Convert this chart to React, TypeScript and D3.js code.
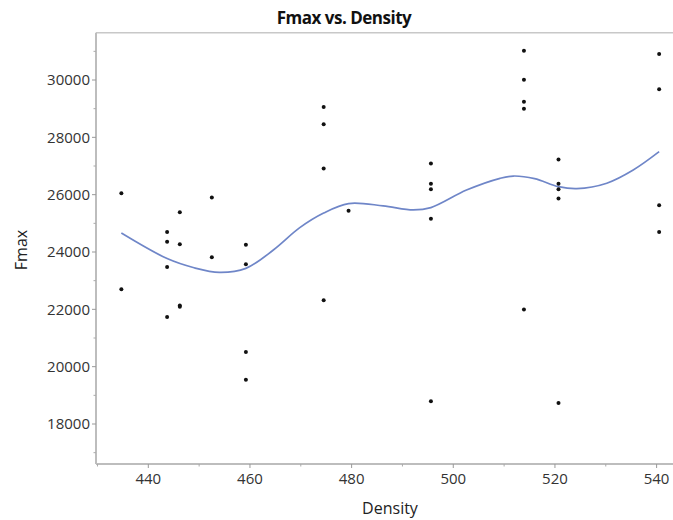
import React from 'react';
import * as d3 from 'd3';

// points: density value, then the Fmax readings at that density
const densities = [434.7, 443.7, 446.2, 452.5, 459.2, 474.5, 479.4, 495.6, 513.9, 520.7, 540.5];
const fmaxByDensity = [
  [26050, 22700],
  [24700, 24360, 23480, 21730],
  [25390, 24270, 22130, 22090],
  [25900, 23820],
  [24250, 23570, 20510, 19540],
  [29060, 28460, 26910, 22320],
  [25440],
  [27090, 26380, 26190, 25160, 18790],
  [31020, 30010, 29240, 29000, 21990],
  [27230, 26380, 26190, 25870, 18730],
  [30910, 29680, 25630, 24700],
];

// smoothing spline as it appears in the picture
const splineX = [434.7, 443.7, 449, 454, 459.2, 464.6, 469.8, 474.5, 479.4, 486.2, 492.1, 495.6, 502.6, 509.2, 511.8, 516, 520.7, 524.3, 530.2, 535.4, 540.5];
const splineY = [24660, 23770, 23450, 23290, 23430, 24070, 24850, 25360, 25690, 25610, 25470, 25550, 26160, 26570, 26650, 26560, 26280, 26210, 26400, 26860, 27500];

const xTicks = [440, 460, 480, 500, 520, 540];
const xMinor = [430, 450, 470, 490, 510, 530];
const yTicks = [18000, 20000, 22000, 24000, 26000, 28000, 30000];
const yMinor = [17000, 19000, 21000, 23000, 25000, 27000, 29000, 31000];

const width = 673, height = 520;
const left = 96, top = 32.7, bottom = 464;
const font = '"Open Sans", sans-serif';
const axisGrey = '#bdbdbd';
const labelColor = '#333';

export default function App() {
  const x = d3.scaleLinear().domain([440, 540]).range([148.3, 656.6]);
  const y = d3.scaleLinear().domain([18000, 30000]).range([424, 80]);

  const points = densities.flatMap((d, i) => fmaxByDensity[i].map(v => [d, v]));
  const line = d3.line<number>()
    .x(i => x(splineX[i]))
    .y(i => y(splineY[i]))
    .curve(d3.curveCatmullRom.alpha(0.5));

  return (
    <svg width={width} height={height} style={{ position: 'absolute', left: 0, top: 0, background: '#fff' }}>
      <text x={344} y={24} textAnchor="middle" fontFamily={font} fontWeight="bold"
            fontSize={17} letterSpacing={-0.5} fill="#111">Fmax vs. Density</text>

      {/* frame */}
      <line x1={left} x2={width} y1={top} y2={top} stroke="#c8c8c8" strokeWidth={1.5} />
      <line x1={left} x2={left} y1={top} y2={bottom} stroke={axisGrey} strokeWidth={2} />
      <line x1={left} x2={width} y1={bottom} y2={bottom} stroke={axisGrey} strokeWidth={2} />

      {/* y axis */}
      {yTicks.map(t => (
        <g key={t}>
          <line x1={left - 4} x2={left} y1={y(t)} y2={y(t)} stroke="#999" />
          <text x={left - 6} y={y(t)} dy="0.36em" textAnchor="end" fontFamily={font}
                fontSize={15} fill={labelColor}>{t}</text>
        </g>
      ))}
      {yMinor.map(t => (
        <line key={t} x1={left - 2.5} x2={left} y1={y(t)} y2={y(t)} stroke="#aaa" />
      ))}

      {/* x axis */}
      {xTicks.map(t => (
        <g key={t}>
          <line x1={x(t)} x2={x(t)} y1={bottom} y2={bottom + 4} stroke="#999" />
          <text x={x(t)} y={483.5} textAnchor="middle" fontFamily={font}
                fontSize={15} fill={labelColor}>{t}</text>
        </g>
      ))}
      {xMinor.map(t => (
        <line key={t} x1={x(t)} x2={x(t)} y1={bottom} y2={bottom + 2.5} stroke="#aaa" />
      ))}

      <text x={390} y={514} textAnchor="middle" fontFamily={font} fontSize={16} fill="#222">Density</text>
      <text transform="translate(27,250) rotate(-90)" textAnchor="middle" fontFamily={font}
            fontSize={16} fill="#222">Fmax</text>

      <path d={line(d3.range(splineX.length)) || ''} fill="none" stroke="#6f86c8" strokeWidth={1.7} />

      {points.map(([d, v], i) => (
        <circle key={i} cx={x(d)} cy={y(v)} r={2} fill="#111" />
      ))}
    </svg>
  );
}
